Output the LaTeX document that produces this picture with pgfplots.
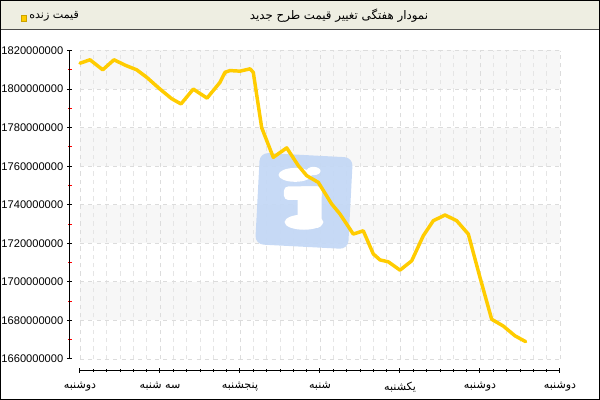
\documentclass[border=0pt]{standalone}
\usepackage{fontspec}
\setmainfont{Liberation Sans}
\newfontfamily\arabicfont[Script=Arabic]{DejaVu Sans}
\TeXXeTstate=1
\usepackage{pgfplots}
\pgfplotsset{compat=1.18}
\usepackage{pgfplotstable}

\definecolor{gold}{RGB}{255,204,0}
\definecolor{barbg}{RGB}{238,238,226}
\definecolor{band}{RGB}{247,247,247}
\definecolor{gridc}{RGB}{220,220,220}
\definecolor{logoblue}{RGB}{196,216,245}

% day (0 = first Monday), price in millions
\pgfplotstableread{
x      y
0.000  1813.4
0.125  1815.2
0.284  1810.0
0.425  1815.2
0.575  1812.2
0.709  1810.0
0.834  1806.1
1.000  1800.0
1.146  1795.0
1.263  1792.3
1.416  1800.0
1.588  1795.3
1.750  1803.5
1.813  1808.7
1.875  1809.6
2.000  1809.3
2.125  1810.5
2.166  1808.7
2.271  1780.0
2.416  1764.6
2.584  1769.5
2.729  1760.3
2.834  1755.1
2.979  1751.6
3.146  1740.4
3.250  1735.2
3.416  1724.8
3.541  1726.5
3.666  1714.5
3.750  1711.4
3.854  1710.4
4.000  1706.1
4.146  1710.9
4.291  1723.9
4.416  1731.7
4.563  1734.7
4.709  1731.7
4.854  1724.8
5.000  1702.3
5.146  1680.6
5.291  1677.1
5.438  1672.0
5.571  1669.0
}\pricedata

\pgfplotsset{
  ticksonly/.style={
    scale only axis, clip=false,
    tick align=center,
    major tick length=3.6pt, minor tick length=2.2pt,
    tick style={black, line width=0.72pt},
    axis line style={line width=0.72pt},
    tick label style={font=\fontsize{8}{10}\selectfont},
  },
}

\begin{document}
\begin{tikzpicture}
\useasboundingbox (0,0) rectangle (432pt,-288pt);
\begin{scope}[x=0.72pt,y=-0.72pt]
% header bar
\fill[barbg] (0,0) rectangle (600,30);
\draw[black!70, line width=0.72pt] (0,30) -- (600,30);
\node[font=\fontsize{8.5}{10}\selectfont] at (339,16) {\arabicfont\beginR نمودار هفتگی تغییر قیمت طرح جدید\endR};
\fill[gold, draw=gold!80!black, line width=0.3pt] (21,15) rectangle (26,21);
\node[font=\fontsize{8}{10}\selectfont, anchor=west, inner sep=0pt] at (29,16) {\arabicfont\beginR قیمت زنده\endR};
% alternating bands of the plot area
\fill[band] (80,50.5) rectangle (560,89.1);
\fill[band] (80,127.6) rectangle (560,166.2);
\fill[band] (80,204.8) rectangle (560,243.4);
\fill[band] (80,281.9) rectangle (560,320.4);
\end{scope}

% plot area: grid, watermark and the price line
\begin{axis}[
  at={(57.6pt,-258.48pt)}, anchor=south west,
  scale only axis, clip=false,
  width=345.6pt, height=222.1pt,
  xmin=0, xmax=6, ymin=1660, ymax=1820,
  axis x line*=bottom, axis y line*=left,
  axis line style={draw=none},
  tick style={draw=none},
  xtick={0,1,2,3,4,5,6}, xticklabels={},
  ytick={1660,1680,1700,1720,1740,1760,1780,1800,1820}, yticklabels={},
  minor x tick num=5,
  xmajorgrids, ymajorgrids, xminorgrids,
  major grid style={gridc, dashed, line width=0.6pt},
  minor grid style={gridc!75, dashed, line width=0.5pt},
]
\node[fill=logoblue, rounded corners=6pt, minimum width=67pt, minimum height=66pt,
      rotate=-3, inner sep=0pt, opacity=0.95] at (axis cs:2.80,1742) {};
\fill[white] (axis cs:2.69,1755.5) ellipse (12pt and 5pt);
\fill[white] (axis cs:2.92,1757.5) ellipse (5pt and 3pt);
\fill[white, rounded corners=3pt] (axis cs:2.55,1742.5) rectangle (axis cs:3.02,1749.5);
\fill[white, rounded corners=3pt] (axis cs:2.72,1728) rectangle (axis cs:3.02,1749.5);
\fill[white] (axis cs:2.80,1731) ellipse (14pt and 5.5pt);
\addplot[gold, line width=2.5pt, line join=round, line cap=round] table[x=x,y=y] {\pricedata};
\end{axis}

% x axis, 10px below the plot area
\begin{axis}[
  ticksonly,
  at={(57.6pt,-266.76pt)}, anchor=south west,
  width=345.6pt, height=10pt,
  xmin=0, xmax=6, ymin=0, ymax=1,
  axis x line*=bottom, axis y line=none,
  ytick=\empty,
  xtick={0,1,2,3,4,5,6},
  xticklabels={
    {\arabicfont\beginR دوشنبه\endR},
    {\arabicfont\beginR سه شنبه\endR},
    {\arabicfont\beginR پنجشنبه\endR},
    {\arabicfont\beginR شنبه\endR},
    {\arabicfont\beginR یکشنبه\endR},
    {\arabicfont\beginR دوشنبه\endR},
    {\arabicfont\beginR دوشنبه\endR}},
  minor x tick num=5,
  minor x tick style={black, line width=0.5pt},
  xticklabel style={yshift=-3pt},
]
\end{axis}

% y axis, 10px left of the plot area
\begin{axis}[
  ticksonly,
  at={(50.4pt,-258.48pt)}, anchor=south west,
  width=10pt, height=222.1pt,
  xmin=0, xmax=1, ymin=1660, ymax=1820,
  axis y line*=left, axis x line=none,
  xtick=\empty,
  ytick={1660,1680,1700,1720,1740,1760,1780,1800,1820},
  yticklabels={1660000000,1680000000,1700000000,1720000000,1740000000,1760000000,1780000000,1800000000,1820000000},
  minor y tick num=1,
  minor y tick style={red, line width=0.72pt},
  yticklabel style={xshift=0.5pt},
]
\end{axis}
\draw[black, line width=1.2pt] (0.43pt,-0.43pt) rectangle (431.57pt,-287.57pt);
\end{tikzpicture}
\end{document}
